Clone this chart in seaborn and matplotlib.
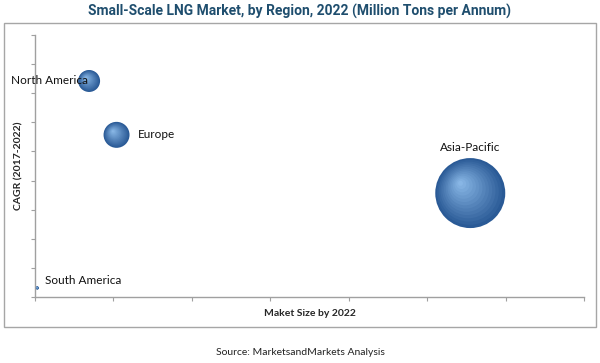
import numpy as np
import matplotlib
matplotlib.use("Agg")
import matplotlib.pyplot as plt
import matplotlib.transforms as mtransforms
from matplotlib.patches import Rectangle
import seaborn as sns
import pandas as pd

regions = ["North America", "Europe", "Asia-Pacific", "South America"]
market_size = [0.69, 1.04, 5.55, 0.03]
cagr = [7.42, 5.57, 3.57, 0.31]
bubble_size = [250, 350, 2540, 5]

df = pd.DataFrame({"region": regions, "size": market_size, "cagr": cagr, "bubble": bubble_size})

sns.set_style("white")
plt.rcParams['font.family'] = ['Lato', 'DejaVu Sans']

fig = plt.figure(figsize=(6, 3.63), dpi=100)
ax = fig.add_axes([0.0583, 0.1818, 0.915, 0.7218])

sns.scatterplot(data=df, x="size", y="cagr", size="bubble", sizes=(0, 2540),
                size_norm=(0, 2540), color="#2A5A96", edgecolor="none",
                legend=False, ax=ax, zorder=2)

# fake sphere shading: lighter layers shifted up-left
dark = np.array(matplotlib.colors.to_rgb("#2A5A96"))
light = np.array(matplotlib.colors.to_rgb("#8FBDEB"))
n = 14
for xs, ys, s in zip(market_size, cagr, bubble_size):
    r = np.sqrt(s) / 2
    for k in range(1, n):
        t = k / n
        frac = 1 - t
        off = mtransforms.offset_copy(ax.transData, fig=fig,
                                      x=-0.3 * r * t, y=0.3 * r * t, units="points")
        col = dark * (1 - t) + light * t
        ax.scatter([xs], [ys], s=s * frac ** 2, color=col, edgecolor="none",
                   transform=off, zorder=3)

# labels
ax.text(market_size[0] - 0.01, cagr[0], "North America", ha="right", va="center", fontsize=8.5, color="#111111", zorder=4)
ax.text(market_size[1] + 0.27, cagr[1], "Europe", ha="left", va="center", fontsize=8.5, color="#111111", zorder=4)
ax.text(market_size[2], cagr[2] + 1.55, "Asia-Pacific", ha="center", va="center", fontsize=8.5, color="#111111", zorder=4)
ax.text(market_size[3] + 0.1, cagr[3] + 0.25, "South America", ha="left", va="center", fontsize=8.5, color="#111111", zorder=4)

ax.set_xlim(0, 7)
ax.set_ylim(0, 9)
ax.set_xticks(np.arange(0, 8, 1))
ax.set_yticks(np.arange(0, 10, 1))
ax.set_xticklabels([])
ax.set_yticklabels([])
ax.tick_params(axis="both", direction="out", length=3, width=0.8, color="#A0A0A0",
               left=True, bottom=True)
for side in ["top", "right"]:
    ax.spines[side].set_visible(False)
for side in ["left", "bottom"]:
    ax.spines[side].set_color("#A0A0A0")
    ax.spines[side].set_linewidth(1)

ax.set_xlabel("Maket Size by 2022", fontsize=7.5, fontweight="bold", labelpad=2)
ax.set_ylabel("CAGR (2017-2022)", fontsize=7.5, fontweight="bold", labelpad=2)

fig.suptitle("Small-Scale LNG Market, by Region, 2022 (Million Tons per Annum)",
             x=0.5, y=0.99, fontsize=10, fontweight="bold", color="#1F4E6E",
             family=['Roboto', 'DejaVu Sans'])

fig.patches.append(Rectangle((0.0067, 0.0992), 0.9866, 0.8374, transform=fig.transFigure,
                             fill=False, edgecolor="#A6A6A6", linewidth=1))

fig.text(0.5, 0.03, "Source: MarketsandMarkets Analysis", ha="center", va="center",
         fontsize=7.5, color="#222222")

fig.savefig("out.png", dpi=100)
